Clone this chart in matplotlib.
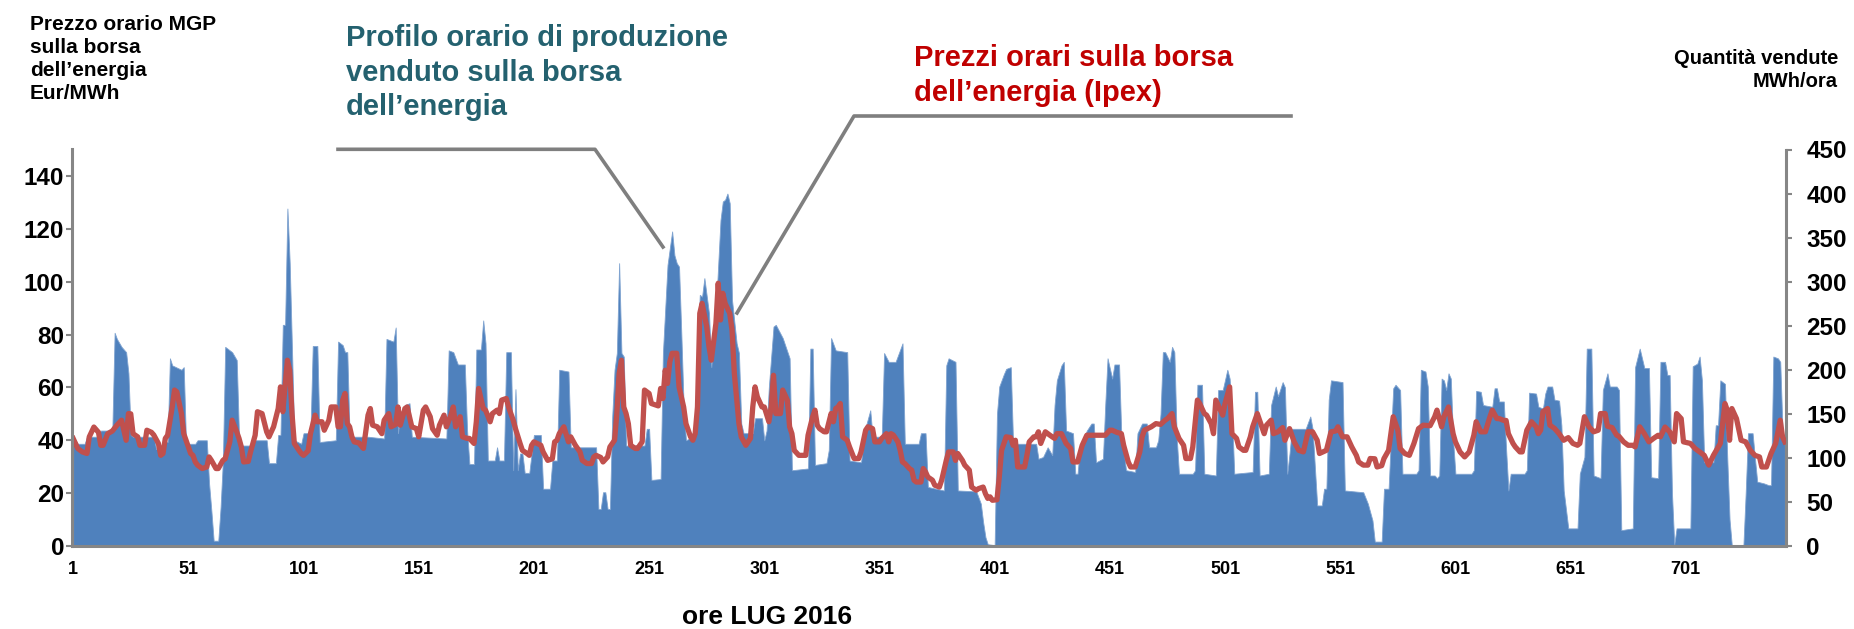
import matplotlib
matplotlib.use("Agg")
import matplotlib.pyplot as plt
from matplotlib.lines import Line2D

plt.rcParams['font.family'] = ['Liberation Sans', 'DejaVu Sans']
plt.rcParams['font.weight'] = 'bold'

# quantita' vendute (MWh/ora): ora -> valore
qty_hours = [1, 2, 3, 6, 7, 12, 13, 18, 19, 20, 22, 24, 25, 26, 27, 36, 37, 40, 41, 42,
             43, 44, 48, 49, 50, 54, 55, 59, 60, 61, 62, 64, 65, 66, 67, 70, 72, 73, 74, 78,
             79, 85, 86, 89, 90, 91, 92, 93, 94, 95, 96, 97, 100, 101, 104, 105, 107, 108, 115, 116,
             118, 119, 120, 121, 129, 136, 137, 140, 141, 142, 143, 145, 147, 148, 163, 164, 166, 168, 171, 172,
             173, 175, 176, 178, 179, 180, 181, 184, 185, 186, 188, 189, 191, 192, 193, 194, 195, 196, 197, 199,
             200, 201, 204, 205, 208, 209, 211, 212, 216, 217, 228, 229, 230, 231, 232, 233, 234, 235, 236, 237,
             238, 239, 240, 241, 249, 250, 251, 252, 256, 257, 259, 261, 262, 263, 264, 265, 266, 267, 270, 271,
             273, 274, 275, 277, 278, 279, 280, 282, 283, 284, 285, 286, 287, 289, 290, 291, 292, 296, 297, 300,
             301, 302, 303, 305, 306, 309, 312, 313, 320, 321, 322, 323, 328, 329, 330, 332, 337, 338, 343, 345,
             347, 348, 352, 353, 355, 358, 361, 362, 368, 369, 371, 372, 379, 380, 381, 384, 385, 393, 395, 396,
             397, 398, 401, 402, 403, 405, 406, 408, 409, 419, 420, 422, 424, 426, 427, 428, 430, 431, 432, 435,
             436, 437, 438, 441, 443, 444, 445, 448, 449, 450, 452, 453, 455, 456, 457, 458, 462, 463, 465, 467,
             468, 471, 472, 473, 474, 475, 477, 478, 479, 480, 481, 487, 488, 489, 491, 492, 497, 498, 500, 502,
             503, 504, 505, 513, 514, 515, 516, 520, 521, 523, 524, 526, 527, 528, 529, 530, 536, 538, 539, 541,
             543, 544, 545, 546, 547, 552, 553, 561, 563, 565, 566, 569, 570, 572, 574, 575, 577, 578, 584, 585,
             586, 588, 589, 590, 592, 593, 594, 595, 596, 597, 598, 599, 600, 601, 608, 609, 610, 612, 613, 617,
             618, 619, 620, 622, 623, 624, 625, 631, 632, 633, 636, 637, 639, 640, 641, 643, 644, 646, 647, 648,
             650, 654, 655, 657, 658, 660, 661, 664, 665, 667, 668, 671, 672, 673, 678, 679, 681, 683, 685, 686,
             689, 690, 692, 693, 694, 695, 696, 697, 703, 704, 706, 707, 708, 709, 713, 714, 715, 716, 718, 719,
             720, 721, 726, 727, 728, 730, 731, 732, 735, 737, 738, 739, 741, 742, 743, 744]
qty_mwh = [124, 120, 116, 116, 124, 124, 131, 131, 242, 235, 226, 220, 196, 126, 124, 124, 110, 110, 118, 118,
           213, 205, 200, 203, 116, 116, 120, 120, 71, 40, 6, 6, 44, 97, 226, 220, 211, 124, 114, 114,
           120, 120, 94, 94, 126, 126, 251, 251, 383, 321, 222, 120, 116, 128, 128, 227, 227, 118, 120, 232,
           228, 220, 220, 124, 124, 122, 235, 232, 248, 128, 150, 160, 162, 124, 122, 222, 220, 206, 206, 131,
           93, 93, 223, 223, 256, 230, 97, 97, 112, 97, 97, 220, 220, 86, 178, 86, 105, 105, 83, 83,
           105, 126, 126, 65, 65, 97, 97, 200, 198, 112, 112, 42, 42, 61, 61, 42, 42, 147, 200, 219,
           321, 219, 215, 114, 114, 133, 133, 75, 76, 219, 319, 357, 330, 321, 317, 240, 158, 120, 124, 150,
           285, 283, 304, 264, 203, 237, 268, 370, 391, 393, 400, 389, 279, 230, 219, 139, 128, 128, 145, 145,
           120, 131, 181, 249, 251, 236, 213, 86, 88, 224, 224, 92, 94, 109, 236, 222, 220, 97, 95, 135,
           154, 124, 124, 219, 209, 209, 230, 116, 116, 128, 128, 67, 63, 205, 213, 209, 63, 62, 48, 27,
           10, 2, 1, 150, 181, 195, 201, 203, 116, 116, 99, 101, 112, 103, 160, 188, 205, 209, 131, 128,
           82, 82, 112, 131, 139, 139, 95, 99, 160, 213, 190, 206, 206, 124, 110, 86, 84, 128, 139, 139,
           112, 112, 120, 150, 220, 220, 209, 226, 220, 124, 82, 82, 86, 183, 183, 82, 80, 177, 177, 200,
           190, 150, 82, 84, 175, 175, 80, 82, 160, 181, 170, 186, 180, 82, 105, 133, 133, 147, 133, 46,
           46, 65, 65, 166, 188, 186, 63, 61, 48, 29, 5, 5, 65, 65, 179, 183, 177, 82, 82, 86,
           200, 198, 181, 80, 80, 77, 80, 190, 188, 177, 196, 190, 120, 82, 82, 86, 176, 175, 160, 158,
           179, 179, 164, 164, 110, 63, 82, 82, 86, 174, 173, 158, 156, 173, 181, 181, 166, 165, 137, 63,
           20, 20, 82, 101, 224, 224, 80, 77, 177, 196, 181, 181, 177, 18, 20, 203, 224, 202, 202, 78,
           77, 209, 209, 194, 194, 60, 2, 20, 20, 204, 207, 215, 188, 95, 95, 137, 137, 188, 184, 100,
           30, 0, 0, 60, 128, 128, 100, 73, 71, 69, 69, 215, 213, 209, 130, 120]

# prezzo orario MGP (Eur/MWh)
price_hours = [1, 3, 5, 7, 8, 10, 12, 13, 14, 16, 18, 20, 22, 24, 25, 26, 27, 29, 30, 32,
               33, 35, 36, 38, 39, 40, 41, 42, 44, 45, 46, 48, 49, 50, 52, 53, 54, 55, 57, 59,
               60, 61, 63, 64, 66, 67, 69, 70, 72, 73, 74, 75, 77, 78, 80, 81, 83, 85, 86, 88,
               90, 91, 92, 94, 95, 96, 97, 99, 100, 101, 103, 104, 106, 107, 109, 110, 112, 113, 115, 116,
               117, 118, 119, 120, 121, 122, 123, 125, 127, 129, 130, 131, 133, 135, 136, 137, 138, 139, 141, 142,
               143, 145, 146, 148, 150, 151, 153, 154, 156, 157, 159, 160, 162, 163, 165, 166, 167, 169, 170, 172,
               173, 175, 176, 177, 179, 180, 182, 183, 185, 186, 187, 189, 190, 192, 193, 195, 196, 198, 199, 200,
               201, 204, 205, 207, 209, 210, 211, 212, 214, 216, 217, 219, 221, 222, 224, 226, 227, 228, 230, 231,
               233, 234, 236, 237, 238, 239, 240, 241, 242, 243, 245, 246, 248, 249, 251, 252, 254, 255, 256, 257,
               258, 259, 260, 261, 263, 264, 266, 267, 269, 270, 271, 272, 273, 274, 276, 277, 278, 280, 281, 282,
               283, 284, 286, 287, 288, 290, 291, 293, 295, 296, 297, 298, 300, 301, 303, 304, 305, 306, 308, 309,
               311, 312, 313, 314, 316, 319, 320, 322, 323, 324, 325, 327, 328, 330, 331, 332, 333, 334, 335, 337,
               338, 340, 342, 343, 345, 346, 348, 349, 351, 352, 354, 355, 356, 357, 359, 360, 361, 362, 364, 365,
               366, 367, 369, 370, 371, 372, 374, 375, 377, 378, 380, 381, 383, 384, 385, 387, 388, 390, 391, 393,
               394, 396, 397, 398, 399, 400, 402, 403, 404, 406, 408, 409, 410, 411, 414, 415, 416, 418, 419, 420,
               421, 423, 425, 427, 428, 430, 432, 434, 435, 437, 439, 441, 449, 451, 452, 454, 456, 457, 459, 460,
               462, 464, 465, 466, 469, 471, 473, 475, 476, 478, 479, 481, 483, 484, 486, 487, 489, 490, 492, 493,
               495, 496, 497, 499, 500, 501, 503, 504, 506, 507, 509, 510, 512, 513, 515, 516, 518, 519, 521, 522,
               524, 526, 527, 529, 531, 533, 535, 537, 539, 541, 542, 545, 547, 549, 550, 552, 554, 556, 558, 559,
               561, 563, 564, 566, 567, 569, 570, 572, 573, 574, 576, 577, 579, 581, 583, 585, 587, 590, 592, 593,
               595, 596, 598, 600, 601, 603, 605, 607, 609, 610, 612, 614, 616, 617, 619, 620, 622, 623, 624, 626,
               627, 629, 630, 632, 634, 636, 637, 638, 639, 641, 642, 644, 646, 648, 650, 652, 654, 655, 657, 659,
               661, 663, 664, 666, 667, 669, 671, 672, 674, 676, 678, 679, 681, 683, 685, 687, 689, 690, 692, 694,
               696, 697, 699, 700, 703, 705, 707, 709, 711, 713, 716, 718, 719, 720, 721, 723, 725, 727, 729, 731,
               733, 734, 736, 738, 740, 742, 743, 744]
price_eur = [40.7, 36.9, 35.6, 35, 41.3, 45, 43, 38.1, 38.1, 42.5, 43.5, 45.7, 47.6, 40, 50.1, 50, 42.5, 41.3, 38.1, 38.1,
             43.8, 43, 42, 38.8, 34.3, 35, 40.7, 41.9, 52.6, 59, 58.3, 50.1, 42.5, 40, 35, 34.3, 31.8, 30.6, 29.3, 29.9,
             33.7, 32.4, 29.3, 29.3, 32.4, 33, 39.4, 47.6, 43.2, 40.7, 37.5, 31.8, 32, 35.6, 41.9, 50.8, 50.1, 43.2, 41.3, 45.1,
             52, 60.2, 50.8, 70.3, 66.5, 50.1, 38.8, 36.2, 35, 34.3, 36, 42.5, 49.5, 47, 47, 43.8, 47.6, 52.6, 52.6, 45.1,
             45.1, 55.2, 57.7, 46.3, 45.1, 41.3, 39.4, 39, 36.9, 49.5, 52, 45.7, 45.1, 42.5, 47.6, 48.9, 50.1, 45.1, 46, 52.6,
             45.7, 52, 52.6, 45.1, 44.4, 41.3, 51.4, 52.6, 48.9, 44.4, 41.9, 45.7, 49.5, 45.1, 49.5, 52.6, 45.1, 48.9, 41.3, 40.7,
             40.7, 38.8, 47, 59.6, 52, 51.4, 47, 50.1, 51.4, 50.1, 55.2, 55.8, 52.6, 47.6, 44.4, 38.8, 36.2, 35, 34.3, 38.1,
             39.4, 38.1, 35.6, 32.4, 33, 39.4, 40, 42.5, 45.1, 39.4, 41.3, 38.1, 35.6, 32.4, 31.2, 31.2, 33.7, 34.3, 33.5, 31.8,
             33.7, 37.5, 40, 50.1, 65.3, 70.3, 52.6, 50.1, 46.3, 38.1, 36.9, 36.9, 39.4, 59, 57.7, 53.9, 53.3, 53, 59.6, 55.8,
             66.5, 61.5, 69.7, 72.9, 72.9, 60.2, 52.6, 46.3, 41.3, 40, 42.5, 52.6, 88, 91.8, 83, 75.4, 70.3, 84.2, 99.4, 85.5,
             95.6, 91.8, 88, 81.7, 65.3, 46.3, 41.3, 38.1, 40.7, 52.6, 60.2, 56.4, 52.6, 52.6, 47, 52.6, 64.6, 50.1, 50.1, 59,
             55.2, 45.1, 42.5, 36.2, 34.3, 34.3, 41.9, 48.9, 51.4, 45.7, 44.4, 43.2, 43.2, 50.1, 47, 52, 52.6, 53.9, 41.3, 40,
             37.5, 33.1, 33.1, 35.6, 43.8, 45.1, 44.4, 39.4, 39.4, 40.7, 42.5, 39.4, 42.5, 42, 39.4, 36.2, 31.8, 31.2, 29.3, 28.7,
             24.9, 24.2, 24.2, 29.3, 28, 26.1, 24.9, 23, 22.3, 24.9, 32.4, 35.6, 35.6, 32.4, 35, 32.4, 30.6, 28.7, 22.3, 21.1,
             21.7, 22.3, 19.8, 18, 18.6, 17.3, 17.5, 26.1, 36.2, 41.3, 41, 38.1, 40, 29.9, 29.9, 34.3, 39.4, 41.3, 41.3, 43.2,
             38.8, 43.2, 41.9, 40.7, 42.5, 42.5, 38.8, 36.9, 31.8, 31.8, 38.1, 41.9, 41.9, 43.8, 43.8, 43, 42.5, 38.1, 31.8, 29.9,
             29.9, 35.6, 41.3, 43.8, 45.1, 46.3, 46, 47.6, 48.2, 50.1, 45.1, 40.7, 38.1, 33.1, 33.1, 37.5, 55.2, 53.9, 50.1, 49.5,
             46.3, 42.5, 55.2, 51.4, 49.5, 53.9, 60.2, 42.5, 40.7, 37.5, 36.2, 36.2, 41.3, 45.1, 50.1, 47.6, 42.5, 45.7, 47.6, 42.5,
             43.2, 44.8, 40, 44.4, 39.4, 36.2, 35.6, 43.2, 43.2, 40, 35, 36.2, 43.2, 43.5, 45.1, 41.3, 41.3, 37.5, 34.3, 31.8,
             30.6, 30.6, 33.1, 33, 29.9, 30.4, 33.1, 36.2, 42.5, 48.9, 43.8, 36.9, 35, 34.3, 38.8, 44.4, 45.7, 45.5, 48.9, 51.4,
             45.1, 48.9, 52.6, 42.5, 39.4, 35.6, 33.7, 35.6, 41.9, 47, 43.2, 43.2, 48.9, 51.4, 48.2, 48.2, 47.5, 47.5, 42.5, 38.8,
             37.5, 35.6, 35.6, 43.8, 47, 45.1, 42.5, 43.8, 50.8, 52, 45.7, 44.5, 42.5, 40, 41, 38.8, 38.1, 38.8, 48.9, 45.1,
             43.2, 43.8, 50.1, 50.1, 45.3, 44.8, 41.9, 41.5, 39.4, 38.1, 38.1, 37.5, 45.1, 42.5, 39.4, 40.7, 41.9, 41.3, 45, 43.2,
             39.4, 50.1, 48.2, 39.4, 38.8, 36.9, 35.6, 34.3, 30.6, 34.3, 38.8, 53.9, 51.4, 40, 52, 48.2, 40, 39.4, 36.2, 34.3,
             33.7, 29.9, 29.9, 35, 38.8, 47.6, 41.3, 39.4]

x_ticks = list(range(1, 745, 50))
price_ticks = list(range(0, 141, 20))
qty_ticks = list(range(0, 451, 50))

W, H = 1854, 629
fig = plt.figure(figsize=(W / 100, H / 100), dpi=100)
ax = fig.add_axes([72 / W, 1 - 546 / H, (1786 - 72) / W, (546 - 149.5) / H])
ax2 = ax.twinx()

# area delle quantita' sull'asse destro, linea prezzi sopra
ax2.fill_between(qty_hours, qty_mwh, 0, color='#4F81BD', lw=0.6, edgecolor='#7FA3D0')
ax.plot(price_hours, price_eur, color='#C0504D', lw=3.8, solid_joinstyle='round')
ax.set_zorder(ax2.get_zorder() + 1)
ax.patch.set_visible(False)

ax.set_xlim(0.5, 744.5)
ax.set_ylim(0, 150)
ax2.set_ylim(0, 450)
ax.set_xticks(x_ticks)
ax.set_yticks(price_ticks)
ax2.set_yticks(qty_ticks)

grey = '#868686'
for a in (ax, ax2):
    for s in a.spines.values():
        s.set_visible(False)
ax.spines['left'].set_visible(True)
ax.spines['left'].set_color(grey)
ax.spines['left'].set_linewidth(2.2)
ax.spines['bottom'].set_visible(True)
ax.spines['bottom'].set_color(grey)
ax.spines['bottom'].set_linewidth(2.2)
ax2.spines['right'].set_visible(True)
ax2.spines['right'].set_color(grey)
ax2.spines['right'].set_linewidth(2.2)

ax.tick_params(axis='x', length=0, pad=11, labelsize=13)
ax.tick_params(axis='y', length=4.5, width=1.5, color=grey, pad=1, labelsize=17.5)
ax2.tick_params(axis='y', length=4.5, width=1.5, color=grey, pad=10, labelsize=17.5)
for lab in ax.get_xticklabels() + ax.get_yticklabels() + ax2.get_yticklabels():
    lab.set_fontweight('bold')


def px(x, y):
    return x / W, 1 - y / H


# testi
fig.text(*px(30, 15.5), "Prezzo orario MGP\nsulla borsa\ndell\u2019energia\nEur/MWh",
         fontsize=15, fontweight='bold', va='top', ha='left', linespacing=1.25)
fig.text(*px(1838, 48.5), "Quantit\u00e0 vendute\nMWh/ora", fontsize=14.5, fontweight='bold',
         va='top', ha='right', multialignment='right', linespacing=1.3)
fig.text(*px(346, 24), "Profilo orario di produzione\nvenduto sulla borsa\ndell\u2019energia",
         fontsize=21, fontweight='bold', color='#24616F', va='top', ha='left', linespacing=1.3)
fig.text(*px(914, 44.5), "Prezzi orari sulla borsa\ndell\u2019energia (Ipex)",
         fontsize=21, fontweight='bold', color='#C00000', va='top', ha='left', linespacing=1.3)
fig.text(*px(767, 617), "ore LUG 2016", fontsize=19, fontweight='bold', va='center', ha='center')

# linee di richiamo
for pts in ([(338, 149.3), (595, 149.3), (663, 247)], [(737, 313), (854, 116), (1291, 116)]):
    xs = [px(p[0], p[1])[0] for p in pts]
    ys = [px(p[0], p[1])[1] for p in pts]
    fig.add_artist(Line2D(xs, ys, transform=fig.transFigure, color='#7F7F7F', lw=2.6))

fig.savefig('out.png', dpi=100)
